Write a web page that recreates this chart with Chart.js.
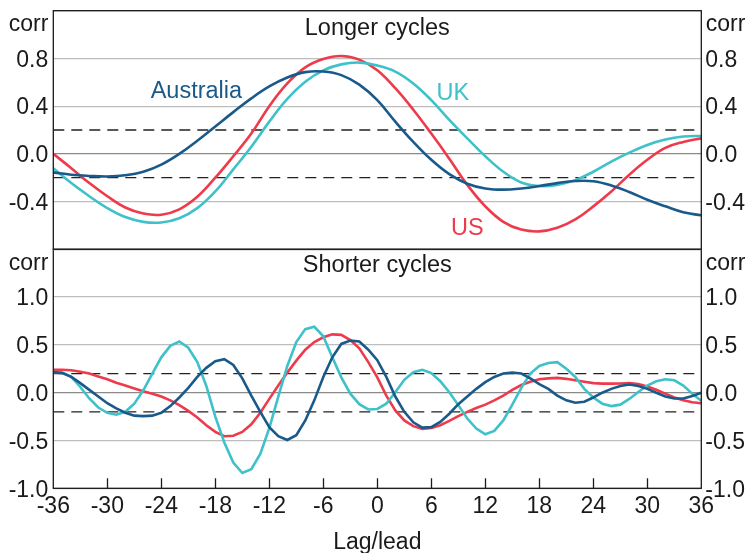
<!DOCTYPE html>
<html>
<head>
<meta charset="utf-8">
<script src="https://cdn.jsdelivr.net/npm/chart.js@4.4.1/dist/chart.umd.min.js"></script>
<style>
  html,body{margin:0;padding:0;background:#fff;}
  #wrap{position:relative;width:746px;height:553px;overflow:hidden;}
  canvas{position:absolute;left:0;}
  #top{top:0;}
  #bottom{top:239px;}
</style>
</head>
<body>
<div id="wrap">
  <canvas id="bottom" width="746" height="314"></canvas>
  <canvas id="top" width="746" height="260"></canvas>
</div>
<script>
// lags in months, longer cycles read every 2 months, shorter cycles every month
const LAGS_LONG = [-36,-34,-32,-30,-28,-26,-24,-22,-20,-18,-16,-14,-12,-10,-8,-6,-4,-2,0,
  2,4,6,8,10,12,14,16,18,20,22,24,26,28,30,32,34,36];
const LAGS_SHORT = [-36,-35,-34,-33,-32,-31,-30,-29,-28,-27,-26,-25,-24,-23,-22,-21,-20,-19,-18,
  -17,-16,-15,-14,-13,-12,-11,-10,-9,-8,-7,-6,-5,-4,-3,-2,-1,0,1,2,3,4,5,6,7,8,9,10,11,12,13,14,
  15,16,17,18,19,20,21,22,23,24,25,26,27,28,29,30,31,32,33,34,35,36];

// Longer cycles
const LONG_AUS = [-0.155,-0.175,-0.185,-0.19,-0.18,-0.15,-0.09,0.0,0.11,0.23,0.35,0.465,0.565,0.64,0.685,0.69,0.66,0.58,0.45,
  0.27,0.10,-0.05,-0.17,-0.25,-0.29,-0.30,-0.29,-0.27,-0.245,-0.228,-0.23,-0.265,-0.32,-0.385,-0.44,-0.49,-0.515];
const LONG_UK = [-0.12,-0.245,-0.355,-0.455,-0.53,-0.57,-0.575,-0.54,-0.455,-0.315,-0.13,0.06,0.27,0.46,0.605,0.70,0.75,0.765,0.74,
  0.69,0.59,0.45,0.285,0.13,-0.02,-0.15,-0.24,-0.27,-0.26,-0.22,-0.15,-0.065,0.01,0.075,0.12,0.145,0.15];
const LONG_US = [0.0,-0.12,-0.245,-0.355,-0.45,-0.50,-0.51,-0.465,-0.36,-0.20,-0.02,0.17,0.40,0.59,0.725,0.795,0.82,0.79,0.70,
  0.55,0.37,0.17,-0.04,-0.26,-0.44,-0.57,-0.635,-0.65,-0.62,-0.55,-0.44,-0.315,-0.175,-0.05,0.05,0.10,0.13];

// Shorter cycles
const SHORT_AUS = [0.215,0.205,0.165,0.10,0.03,-0.04,-0.11,-0.165,-0.21,-0.24,-0.245,-0.24,-0.21,-0.14,-0.05,0.05,0.165,0.26,0.33,
  0.35,0.29,0.15,-0.03,-0.20,-0.36,-0.455,-0.495,-0.445,-0.29,-0.08,0.165,0.37,0.51,0.545,0.535,0.45,0.34,
  0.165,-0.04,-0.20,-0.31,-0.365,-0.36,-0.305,-0.22,-0.12,-0.04,0.04,0.11,0.165,0.20,0.21,0.20,0.15,0.09,
  0.04,-0.03,-0.08,-0.105,-0.095,-0.05,0.0,0.04,0.07,0.085,0.07,0.04,0.0,-0.04,-0.06,-0.06,-0.035,0.0];
const SHORT_UK = [0.215,0.21,0.165,0.06,-0.06,-0.155,-0.21,-0.23,-0.20,-0.115,0.025,0.20,0.37,0.49,0.535,0.47,0.32,0.07,-0.25,
  -0.52,-0.73,-0.84,-0.80,-0.64,-0.37,-0.04,0.28,0.53,0.665,0.69,0.59,0.37,0.16,-0.01,-0.12,-0.175,-0.17,
  -0.115,0.005,0.135,0.215,0.24,0.205,0.12,0.005,-0.13,-0.27,-0.375,-0.435,-0.40,-0.29,-0.125,0.05,0.20,0.28,
  0.31,0.32,0.25,0.165,0.04,-0.05,-0.115,-0.14,-0.125,-0.065,0.007,0.075,0.12,0.14,0.13,0.075,-0.01,-0.085];
const SHORT_US = [0.24,0.24,0.235,0.22,0.20,0.17,0.14,0.105,0.075,0.045,0.015,-0.01,-0.04,-0.08,-0.13,-0.19,-0.26,-0.34,-0.41,
  -0.455,-0.45,-0.41,-0.33,-0.21,-0.065,0.075,0.21,0.335,0.45,0.53,0.58,0.61,0.605,0.55,0.465,0.32,0.16,
  -0.03,-0.185,-0.29,-0.35,-0.38,-0.37,-0.34,-0.295,-0.245,-0.20,-0.16,-0.125,-0.08,-0.03,0.03,0.08,0.115,0.14,
  0.15,0.155,0.145,0.13,0.115,0.10,0.095,0.095,0.097,0.10,0.09,0.065,0.03,-0.01,-0.05,-0.08,-0.10,-0.11];

const BANDS = [0.2, -0.2];   // dashed significance bands
const X_TICKS = {min:-36, max:36, step:6};

const COL = {aus:'#1a5a8a', uk:'#3ec1c9', us:'#ee3b4b', ink:'#1a1a1a'};
const FONT_FAMILY = '"Liberation Sans", Arial, sans-serif';
const FS = 23;

Chart.defaults.font.family = FONT_FAMILY;
Chart.defaults.font.size = FS;
Chart.defaults.color = COL.ink;

const pts = (xs, ys) => xs.map((x,i)=>({x, y: ys[i]}));

function seriesSets(lags, aus, uk, us, tension){
  const line = (d,c)=>({data: pts(lags,d), borderColor:c, borderWidth:2.6, pointRadius:0, tension, fill:false, order:1});
  const bands = BANDS.map(b=>({data:[{x:X_TICKS.min,y:b},{x:X_TICKS.max,y:b}], borderColor:'#222',
    borderWidth:1.3, borderDash:[11,7], pointRadius:0, order:10}));
  return [...bands, line(aus,COL.aus), line(uk,COL.uk), line(us,COL.us)];
}

// frame, inner tick marks and free text
const decor = {
  id:'decor',
  afterDraw(chart, args, o){
    const {ctx, chartArea:a, scales} = chart;
    ctx.save();
    ctx.strokeStyle = COL.ink; ctx.lineWidth = 1.3;
    ctx.strokeRect(a.left, a.top, a.right-a.left, a.bottom-a.top);
    if(o.xTicks){
      scales.x.ticks.forEach(t=>{
        if(t.value===X_TICKS.min || t.value===X_TICKS.max) return;
        const px = Math.round(scales.x.getPixelForValue(t.value))+0.5;
        ctx.beginPath(); ctx.moveTo(px, a.bottom); ctx.lineTo(px, a.bottom-10); ctx.stroke();
      });
    }
    ctx.textBaseline = 'alphabetic';
    ctx.fillStyle = COL.ink;
    ctx.font = '23.5px '+FONT_FAMILY;
    ctx.textAlign = 'center';
    ctx.fillText(o.title, (a.left+a.right)/2, a.top+o.titleDy);
    ctx.font = FS+'px '+FONT_FAMILY;
    ctx.textAlign = 'right'; ctx.fillText('corr', a.left-5, a.top+o.corrDy);
    ctx.textAlign = 'left';  ctx.fillText('corr', a.right+4.5, a.top+o.corrDy);
    ctx.font = '23.5px '+FONT_FAMILY;
    (o.labels||[]).forEach(l=>{
      ctx.fillStyle = l.color; ctx.textAlign = 'center';
      ctx.fillText(l.text, scales.x.getPixelForValue(l.x), scales.y.getPixelForValue(l.y));
    });
    if(o.xTitle){
      ctx.font = FS+'px '+FONT_FAMILY;
      ctx.fillStyle = COL.ink; ctx.textAlign = 'center';
      ctx.fillText(o.xTitle, (a.left+a.right)/2, a.bottom+61);
    }
    ctx.restore();
  }
};

function makeChart(el, cfg){
  const isZero = v => Math.abs(v) < 1e-9;
  const yAxis = pos => ({
    type:'linear', position:pos, min:cfg.min, max:cfg.max,
    ticks:{stepSize:cfg.step, padding: pos==='left'?5:4, labelOffset:2, color:COL.ink, font:{size:FS},
      callback: v => (Math.abs(v-cfg.max)<1e-6 || (cfg.hideMin && Math.abs(v-cfg.min)<1e-6)) ? '' : (isZero(v)?'0.0':v.toFixed(1))},
    grid:{display: pos==='left', drawTicks:false, lineWidth:1.2,
      color: c => (c.tick && isZero(c.tick.value)) ? '#8a8a8a' : '#bdbdbd'},
    border:{display:false},
    afterFit: s => { s.width = pos==='left' ? 53.3 : 44.7; s.paddingTop = 0; s.paddingBottom = 0; }
  });
  return new Chart(el, {
    type:'line',
    data:{datasets: cfg.datasets},
    options:{
      responsive:false, animation:false, devicePixelRatio:1,
      layout:{padding:{top:cfg.padTop, bottom:cfg.padBottom, left:0, right:0}},
      plugins:{legend:{display:false}, tooltip:{enabled:false}, decor:cfg.decor},
      scales:{
        x:{type:'linear', min:X_TICKS.min, max:X_TICKS.max, display:cfg.showX,
          ticks:{stepSize:X_TICKS.step, autoSkip:false, maxRotation:0, padding:5, color:COL.ink, font:{size:FS}},
          grid:{display:false, drawTicks:false}, border:{display:false},
          afterFit: s => { s.height = cfg.xHeight||0; s.paddingLeft = 0; s.paddingRight = 0; }},
        y: yAxis('left'),
        y2: yAxis('right')
      }
    },
    plugins:[decor]
  });
}

makeChart(document.getElementById('top'), {
  min:-0.8, max:1.2, step:0.4, hideMin:true, padTop:10.7, padBottom:10.7, showX:false,
  datasets: seriesSets(LAGS_LONG, LONG_AUS, LONG_UK, LONG_US, 0.4),
  decor:{title:'Longer cycles', titleDy:24.3, corrDy:20,
    labels:[{text:'Australia', x:-20.1, y:0.466, color:COL.aus},
            {text:'UK', x:8.4, y:0.452, color:COL.uk},
            {text:'US', x:10.0, y:-0.678, color:COL.us}]}
});

makeChart(document.getElementById('bottom'), {
  min:-1.0, max:1.5, step:0.5, hideMin:false, padTop:10.3, padBottom:0, showX:true, xHeight:64.7,
  datasets: seriesSets(LAGS_SHORT, SHORT_AUS, SHORT_UK, SHORT_US, 0),
  decor:{title:'Shorter cycles', titleDy:23, corrDy:20.7, xTicks:true, xTitle:'Lag/lead'}
});
</script>
</body>
</html>
